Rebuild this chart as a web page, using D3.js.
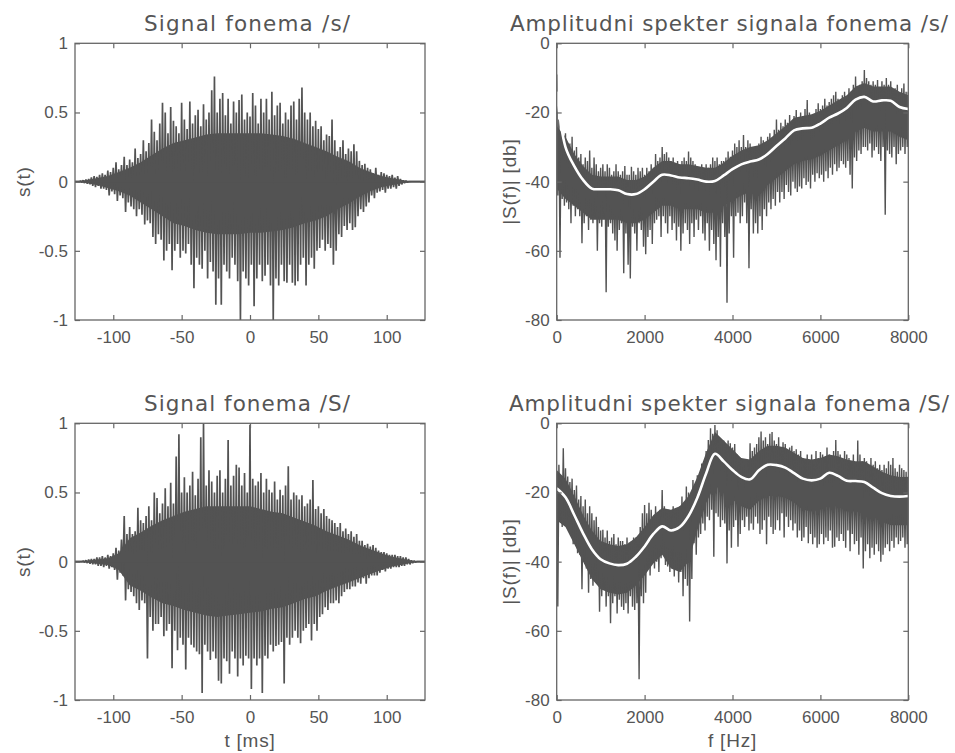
<!DOCTYPE html>
<html><head><meta charset="utf-8">
<script src="https://cdn.jsdelivr.net/npm/d3@7/dist/d3.min.js"></script>
<style>body{margin:0;background:#fff}svg{display:block}</style>
</head><body>
<svg id="c" width="955" height="753"></svg>
<script>
// ---------- texts & ticks ----------
const titles = ["Signal fonema /s/", "Amplitudni spekter signala fonema /s/", "Signal fonema /S/", "Amplitudni spekter signala fonema /S/"];
const timeTicks = [-100, -50, 0, 50, 100];
const ampTicks = [-1, -0.5, 0, 0.5, 1];
const freqTicks = [0, 2000, 4000, 6000, 8000];
const dbTicks = [-80, -60, -40, -20, 0];
const timeDomain = [-128, 128];
const freqDomain = [0, 8000];

// ---------- time signals: max/min per 2 ms bin, t = -128 .. 128 ----------
const timeBins = d3.range(-128, 129, 2);
const sUpper = [
 0,0,0.005,0.01,0.015,0.02,0.03,0.04,0.035,0.05,
 0.06,0.05,0.08,0.07,0.1,0.14,0.09,0.12,0.18,0.12,
 0.16,0.14,0.24,0.17,0.2,0.3,0.22,0.28,0.45,0.36,
 0.3,0.42,0.57,0.5,0.35,0.54,0.44,0.4,0.35,0.57,
 0.45,0.38,0.58,0.42,0.48,0.52,0.4,0.56,0.45,0.5,
 0.66,0.76,0.5,0.6,0.64,0.48,0.6,0.42,0.58,0.5,
 0.59,0.63,0.45,0.5,0.47,0.64,0.55,0.42,0.6,0.5,
 0.6,0.45,0.65,0.48,0.55,0.57,0.42,0.5,0.45,0.55,
 0.58,0.45,0.6,0.68,0.5,0.45,0.5,0.4,0.44,0.38,
 0.4,0.3,0.34,0.33,0.45,0.3,0.22,0.25,0.3,0.2,
 0.24,0.22,0.27,0.22,0.15,0.12,0.13,0.1,0.09,0.06,
 0.1,0.05,0.07,0.06,0.05,0.04,0.05,0.03,0.04,0.02,
 0.01,0.005,0,0,0,0,0,0,0];
const sLower = [
 0,0,-0.005,-0.01,-0.015,-0.02,-0.03,-0.04,-0.03,-0.05,
 -0.05,-0.06,-0.1,-0.07,-0.09,-0.14,-0.1,-0.12,-0.22,-0.15,
 -0.18,-0.2,-0.25,-0.2,-0.24,-0.31,-0.28,-0.3,-0.4,-0.45,
 -0.38,-0.42,-0.57,-0.5,-0.45,-0.64,-0.5,-0.45,-0.55,-0.5,
 -0.52,-0.45,-0.6,-0.77,-0.55,-0.6,-0.63,-0.5,-0.7,-0.58,
 -0.65,-0.89,-0.7,-0.89,-0.6,-0.65,-0.7,-0.55,-0.6,-0.72,
 -1.0,-0.65,-0.7,-0.75,-0.6,-0.9,-0.7,-0.6,-0.72,-0.68,
 -0.6,-0.75,-1.0,-0.7,-0.75,-0.6,-0.72,-0.73,-0.6,-0.73,
 -0.75,-0.72,-0.6,-0.55,-0.75,-0.6,-0.55,-0.63,-0.5,-0.48,
 -0.42,-0.5,-0.45,-0.48,-0.6,-0.5,-0.38,-0.4,-0.32,-0.35,
 -0.3,-0.35,-0.33,-0.25,-0.2,-0.22,-0.18,-0.15,-0.1,-0.12,
 -0.08,-0.07,-0.06,-0.08,-0.05,-0.05,-0.04,-0.05,-0.03,-0.02,
 -0.01,-0.005,0,0,0,0,0,0,0];
const shUpper = [
 0,0,0,0.005,0.01,0.015,0.02,0.02,0.03,0.03,
 0.04,0.03,0.05,0.04,0.06,0.1,0.08,0.16,0.33,0.2,
 0.25,0.2,0.22,0.39,0.3,0.28,0.33,0.4,0.3,0.5,
 0.46,0.35,0.42,0.53,0.4,0.57,0.42,0.76,0.92,0.5,
 0.61,0.5,0.55,0.65,0.48,0.6,0.9,1.0,0.55,0.66,
 0.58,0.5,0.62,0.66,0.5,0.6,0.88,0.55,0.62,0.7,
 0.68,0.55,0.64,0.5,0.99,0.6,0.55,0.58,0.64,0.5,
 0.6,0.52,0.5,0.58,0.45,0.52,0.48,0.55,0.69,0.45,
 0.5,0.48,0.45,0.48,0.4,0.42,0.45,0.59,0.38,0.4,
 0.35,0.38,0.33,0.31,0.3,0.28,0.25,0.28,0.22,0.24,
 0.2,0.22,0.18,0.2,0.15,0.15,0.12,0.13,0.11,0.12,
 0.1,0.08,0.07,0.07,0.06,0.05,0.05,0.05,0.04,0.04,
 0.03,0.03,0.02,0.01,0.005,0,0,0,0];
const shLower = [
 0,0,0,-0.005,-0.01,-0.015,-0.02,-0.02,-0.03,-0.03,
 -0.04,-0.03,-0.05,-0.04,-0.06,-0.13,-0.08,-0.1,-0.28,-0.2,
 -0.22,-0.25,-0.3,-0.35,-0.28,-0.3,-0.7,-0.4,-0.5,-0.45,
 -0.45,-0.4,-0.54,-0.5,-0.45,-0.77,-0.5,-0.64,-0.55,-0.6,
 -0.78,-0.55,-0.6,-0.62,-0.65,-0.67,-0.95,-0.6,-0.65,-0.71,
 -0.65,-0.7,-0.86,-0.88,-0.7,-0.72,-0.81,-0.65,-0.7,-0.83,
 -0.7,-0.75,-0.68,-0.7,-0.92,-0.7,-0.75,-0.7,-0.95,-0.68,
 -0.7,-0.6,-0.65,-0.61,-0.6,-0.58,-0.88,-0.55,-0.6,-0.55,
 -0.5,-0.55,-0.59,-0.5,-0.48,-0.45,-0.57,-0.45,-0.5,-0.4,
 -0.38,-0.33,-0.35,-0.3,-0.3,-0.28,-0.3,-0.25,-0.22,-0.2,
 -0.2,-0.18,-0.18,-0.15,-0.16,-0.12,-0.16,-0.12,-0.1,-0.1,
 -0.1,-0.08,-0.06,-0.07,-0.05,-0.05,-0.04,-0.04,-0.04,-0.03,
 -0.03,-0.02,-0.02,-0.01,-0.005,0,0,0,0];

// solid (dense) band of the time signals, every 8 ms
const coreTime = d3.range(-128, 129, 8);
const sCoreUp = [0,0.01,0.025,0.04,0.07,0.1,0.14,0.19,0.24,0.28,0.3,0.32,0.34,0.35,0.35,0.35,0.35,
 0.35,0.34,0.33,0.31,0.28,0.25,0.22,0.18,0.15,0.1,0.07,0.04,0.025,0.01,0,0];
const sCoreLo = [0,-0.01,-0.025,-0.045,-0.07,-0.1,-0.15,-0.2,-0.25,-0.3,-0.32,-0.35,-0.37,-0.38,-0.38,-0.38,-0.37,
 -0.37,-0.36,-0.35,-0.33,-0.3,-0.28,-0.25,-0.2,-0.16,-0.11,-0.07,-0.04,-0.025,-0.01,0,0];
const shCoreUp = [0,0.005,0.015,0.025,0.06,0.17,0.21,0.26,0.3,0.33,0.36,0.38,0.4,0.4,0.4,0.4,0.4,
 0.38,0.36,0.35,0.32,0.29,0.26,0.22,0.19,0.16,0.12,0.09,0.06,0.035,0.02,0.005,0];
const shCoreLo = [0,-0.005,-0.015,-0.025,-0.06,-0.17,-0.21,-0.26,-0.3,-0.32,-0.35,-0.37,-0.39,-0.4,-0.39,-0.38,-0.37,
 -0.36,-0.34,-0.33,-0.3,-0.27,-0.25,-0.21,-0.18,-0.15,-0.12,-0.09,-0.06,-0.035,-0.02,-0.005,0];

// ---------- spectra: max/min per 50 Hz bin, f = 0 .. 8000 ----------
const freqBins = d3.range(0, 8001, 50);
const sSpecHi = [
 -9,-22,-26,-28,-26,-30,-29,-27,-31,-30,
 -33,-32,-35,-33,-34,-31,-36,-33,-35,-37,
 -36,-35,-37,-35,-36,-38,-37,-35,-37,-38,
 -37,-35.5,-38,-38,-35.7,-37,-38,-36,-37,-36,
 -38,-36,-37,-35,-36,-32,-34,-33,-30,-32,
 -31.5,-33,-34,-33,-35,-34,-35,-34,-33,-34,
 -31.3,-33,-34,-35,-36,-37,-35,-36,-35,-36,
 -35,-33,-34,-33,-35,-34,-34,-33,-31.3,-32.8,
 -31,-29,-30,-28,-30,-26.5,-30,-28,-29,-30,
 -30,-31,-29,-27,-28,-29,-27,-26,-28,-25,
 -22,-25,-23,-24,-22,-23,-20.7,-23,-21,-19.3,
 -22,-20,-21,-19,-16.4,-20,-21,-22,-19,-17.3,
 -19,-18,-16,-18,-17,-16,-15,-14,-16,-17,
 -15,-14,-16,-13,-14,-12,-9.6,-13,-12,-11,
 -7.7,-10,-11,-12,-11,-12,-10.6,-13,-11,-12,
 -10,-12,-11,-14,-13,-12,-15,-13,-11.6,-14,
 -14];
const sSpecLo = [
 -44,-62,-45,-47,-46,-48,-52,-47,-50,-48,
 -50,-57.8,-52,-50,-54,-51,-52,-50,-60,-52,
 -53,-50,-72,-53,-52,-55,-57,-60,-54,-52,
 -66.5,-55,-64,-68,-53,-55,-60,-52,-54,-58.8,
 -61,-56,-54,-58,-52,-51,-50,-56,-50,-52,
 -55,-50,-54,-52,-57,-53,-60,-55,-52,-54,
 -58,-52,-56,-51,-54,-50,-55,-57,-52,-60,
 -54,-58,-62.7,-56,-64.6,-52,-56,-75,-55,-50,
 -62,-50,-49,-52,-50,-46,-52,-65,-48,-55,
 -52,-55,-50,-54,-48,-50,-46,-48,-45,-47,
 -43,-46,-43,-45,-41,-43,-44,-40,-42,-43,
 -41.4,-42,-39,-41,-40,-42,-38,-40,-37.6,-39,
 -38,-40,-37,-39,-36,-38,-35,-37,-36,-34,
 -35,-36,-34,-38,-42,-33,-34,-31,-32,-30,
 -30,-31,-29,-33,-31,-30,-32,-34,-30,-49.6,
 -31,-32,-33,-30,-35,-32,-31,-30,-32,-30,
 -31];
const shSpecHi = [
 -14.5,-12,-16,-7.2,-13,-15.4,-17,-16,-19.3,-18,
 -22,-21,-24,-22,-26,-24,-26,-28,-27,-30,
 -31,-30.8,-33,-31,-34,-33,-32,-35,-33,-34,
 -34,-35,-33,-34.5,-34,-33,-33,-35,-30,-26,
 -23.6,-26,-23,-25,-27,-24,-26,-25,-19.3,-24,
 -26,-25,-27,-24,-26,-25,-24,-21.2,-24,-18.3,
 -20,-22,-16.4,-19,-15,-17,-11.6,-14,-8,-4.8,
 -1.4,-3,-0.5,-2,-4,-6,-5,-6.7,-5,-5.8,
 -7,-6,-9,-11,-10,-12,-13.5,-11,-5.8,-8,
 -7,-6,-4,-2.4,-5,-4,-6,-3,-2.5,-5,
 -6,-4,-7,-5.5,-6,-8,-7,-6.5,-8,-7.5,
 -9,-8,-10,-10.6,-9,-11,-9,-12,-8,-10,
 -8.3,-9,-10,-7,-9,-10,-8,-4.8,-8,-9,
 -10,-8,-9,-10,-11,-9,-12,-5,-9,-11,
 -10,-11,-12.5,-10,-12,-11,-13,-12,-13.5,-12,
 -13,-11,-12,-10,-13,-14,-12,-13,-13.5,-14,
 -15.4];
const shSpecLo = [
 -53,-28,-30,-29,-28,-27,-29,-35,-30,-37.6,
 -38,-48,-40,-42,-49,-45,-47,-44,-46,-54.5,
 -50,-48,-53,-50,-57.8,-52,-50,-55,-51,-53,
 -54,-52,-55,-50,-53,-54,-52,-74,-50,-52,
 -49,-42,-44,-39.5,-42,-40,-43,-39,-38,-41,
 -41.4,-43,-40,-44.3,-42,-46,-43,-50,-45,-47,
 -57.3,-45,-34.7,-38,-33,-32,-29,-31,-27,-28,
 -25,-38.6,-26,-27,-30,-28,-29,-40.5,-31,-36,
 -30,-28,-35.7,-32,-28,-30,-27,-31,-29,-30.8,
 -27,-29,-32,-30.8,-28,-35,-27,-30,-32,-30.8,
 -28,-31,-26,-33,-27,-30,-28,-31,-29,-33,
 -31,-34,-33,-30,-34.7,-32,-35,-33,-36,-35,
 -32,-35,-33,-34,-31,-36,-35.7,-33,-34,-32,
 -34,-36,-31,-37,-32,-35,-34,-38,-33,-42,
 -37,-35,-39,-36,-38,-35,-37,-40,-38,-36,
 -35,-37,-34,-36,-33,-35,-34,-33,-36,-35,
 -33];

// ---------- smoothed spectra (white curves) and solid band, every 200 Hz ----------
const smoothFreq = d3.range(0, 8001, 200);
const sSmooth = [-14,-30,-35.5,-39.5,-42,-42.2,-42.2,-42.5,-43.6,-43.6,
 -42.2,-40,-38,-38.2,-38.8,-39,-39.4,-40,-39.8,-38.2,
 -36.4,-35,-34.2,-33.6,-32,-29.7,-27.5,-25.2,-24.6,-24.4,
 -23.2,-21.5,-20.3,-18.7,-16.3,-15.5,-16.8,-16.5,-16.6,-18.4,-19];
const shSmooth = [-18.8,-21.4,-26.5,-31.8,-36.4,-39.3,-40.5,-41,-40.6,-38.6,
 -35.6,-32,-29.8,-31,-30,-26.8,-21.5,-14.5,-8.8,-11,
 -13.5,-15.5,-16.2,-13.6,-12,-12.1,-12.8,-14.4,-16,-16.5,
 -16,-14.3,-15.2,-16.6,-16.7,-17,-18.6,-20.2,-21,-21.2,-21];
const sCoreTop = [-24,-27,-32,-35.5,-38,-38.5,-38.5,-38.5,-39.5,-39.5,
 -38.5,-36,-34,-34,-35,-35,-35.5,-36,-36,-34.5,
 -32.5,-31,-30,-29.5,-28,-26,-24,-21.5,-21,-20.5,
 -19.5,-18,-16.5,-15,-12.5,-11.5,-12.5,-12.5,-12.5,-14,-15];
const sCoreBot = [-42,-45,-47,-49,-51,-51,-51,-51,-52,-52,
 -51,-49,-47,-47,-48,-48,-48,-49,-49,-47,
 -45.5,-44,-43,-42.5,-41,-39,-37,-35,-34,-33.5,
 -32.5,-31,-29.5,-28,-25.5,-24.5,-25.5,-25.5,-25.5,-27,-28];
const shCoreTop = [-13.5,-16,-21,-26.5,-31,-34,-35,-35.5,-35,-33,
 -30,-26.5,-24.5,-25,-24,-21,-15.5,-8.5,-2.5,-5,
 -7.5,-10,-10.5,-8,-6.5,-6.5,-7,-8.5,-10,-10.5,
 -10,-9,-9.5,-10.5,-11,-11,-12.5,-14,-15,-15.5,-15.5];
const shCoreBot = [-28,-30,-35,-40,-45,-48,-49,-49.5,-49,-47,
 -44,-40.5,-38,-42,-43,-40,-31,-23,-18,-20,
 -22,-24,-25,-22.5,-21,-21,-21.5,-23,-25,-25.5,
 -25,-23,-24,-25.5,-25.5,-26,-27,-28.5,-29.5,-29.5,-29.5];

// ---------- drawing ----------
const LINE = "#535353", TXT = "#555555", BOX = "#666666";
const svg = d3.select("#c");
const fmt = d => String(d);

const panels = [
 {x0:75, x1:425, y0:43.3, y1:320, kind:"time", hi:sUpper, lo:sLower, cu:sCoreUp, cl:sCoreLo, title:titles[0], tlen:206, ylab:"s(t)", xlab:null},
 {x0:556.7, x1:908.3, y0:43.3, y1:320, kind:"freq", hi:sSpecHi, lo:sSpecLo, cu:sCoreTop, cl:sCoreBot, sm:sSmooth, title:titles[1], tlen:438, ylab:"|S(f)| [db]", xlab:null},
 {x0:75, x1:425, y0:423.3, y1:700, kind:"time", hi:shUpper, lo:shLower, cu:shCoreUp, cl:shCoreLo, title:titles[2], tlen:206, ylab:"s(t)", xlab:"t [ms]"},
 {x0:556.7, x1:908.3, y0:423.3, y1:700, kind:"freq", hi:shSpecHi, lo:shSpecLo, cu:shCoreTop, cl:shCoreBot, sm:shSmooth, title:titles[3], tlen:440, ylab:"|S(f)| [db]", xlab:"f [Hz]"}
];

panels.forEach((p, k) => {
  const isT = p.kind === "time";
  const x = d3.scaleLinear().domain(isT ? timeDomain : freqDomain).range([p.x0, p.x1]);
  const y = d3.scaleLinear().domain(isT ? [-1, 1] : [-80, 0]).range([p.y1, p.y0]);
  const bins = isT ? timeBins : freqBins;
  const cbins = isT ? coreTime : smoothFreq;
  const half = isT ? 1 : 25;
  const xt = isT ? timeTicks : freqTicks, yt = isT ? ampTicks : dbTicks;

  const cid = "clip" + k;
  svg.append("clipPath").attr("id", cid).append("rect")
    .attr("x", p.x0).attr("y", p.y0).attr("width", p.x1 - p.x0).attr("height", p.y1 - p.y0);
  const g = svg.append("g").attr("clip-path", `url(#${cid})`);

  // solid band of the trace
  const area = d3.area().x((d, i) => x(cbins[i])).y0((d, i) => y(p.cl[i])).y1(d => y(d));
  g.append("path").attr("d", area(p.cu)).attr("fill", LINE);

  // the trace itself, alternating bin maxima and minima
  const pts = [];
  bins.forEach((b, i) => {
    if (i < p.hi.length) pts.push([b, p.hi[i]]);
    if (i < p.lo.length) pts.push([b + half, p.lo[i]]);
  });
  const line = d3.line().x(d => x(d[0])).y(d => y(d[1]));
  g.append("path").attr("d", line(pts)).attr("fill", "none")
    .attr("stroke", LINE).attr("stroke-width", isT ? 1.7 : 1.4).attr("stroke-linejoin", "bevel");
  if (isT) {
    g.append("line").attr("x1", p.x0).attr("x2", p.x1).attr("y1", y(0)).attr("y2", y(0))
      .attr("stroke", LINE).attr("stroke-width", 1.8);
  } else {
    const sm = d3.line().curve(d3.curveCatmullRom.alpha(0.5))
      .x((d, i) => x(smoothFreq[i])).y(d => y(d));
    g.append("path").attr("d", sm(p.sm)).attr("fill", "none")
      .attr("stroke", "#ffffff").attr("stroke-width", 2.6);
  }

  // axes (inward ticks on all four sides)
  const styleAx = sel => {
    sel.select(".domain").remove();
    sel.selectAll(".tick line").attr("stroke", BOX).attr("stroke-width", 1.2);
    sel.selectAll("text").attr("fill", TXT).attr("font-family", "Liberation Sans, Arial, sans-serif").attr("font-size", 17);
  };
  svg.append("g").attr("transform", `translate(0,${p.y1})`)
    .call(d3.axisBottom(x).tickValues(xt).tickSizeInner(-5).tickSizeOuter(0).tickPadding(11).tickFormat(fmt)).call(styleAx);
  svg.append("g").attr("transform", `translate(0,${p.y0})`)
    .call(d3.axisTop(x).tickValues(xt).tickSizeInner(-5).tickSizeOuter(0).tickFormat("")).call(styleAx);
  svg.append("g").attr("transform", `translate(${p.x0},0)`)
    .call(d3.axisLeft(y).tickValues(yt).tickSizeInner(-5).tickSizeOuter(0).tickPadding(7).tickFormat(fmt)).call(styleAx);
  svg.append("g").attr("transform", `translate(${p.x1},0)`)
    .call(d3.axisRight(y).tickValues(yt).tickSizeInner(-5).tickSizeOuter(0).tickFormat("")).call(styleAx);

  svg.append("rect").attr("x", p.x0).attr("y", p.y0).attr("width", p.x1 - p.x0).attr("height", p.y1 - p.y0)
    .attr("fill", "none").attr("stroke", BOX).attr("stroke-width", 1.3);

  const cx = (p.x0 + p.x1) / 2, cy = (p.y0 + p.y1) / 2;
  svg.append("text").attr("x", isT ? cx - 3 : cx - 3.5).attr("y", p.y0 - 12.5).attr("text-anchor", "middle")
    .attr("font-family", "DejaVu Sans, Verdana, sans-serif").attr("font-size", 21.5).attr("fill", TXT)
    .attr("textLength", p.tlen).attr("lengthAdjust", "spacing")
    .text(p.title);
  svg.append("text").attr("transform", `translate(${isT ? 30 : 516},${cy}) rotate(-90)`)
    .attr("text-anchor", "middle").attr("font-family", "Liberation Sans, Arial, sans-serif")
    .attr("font-size", 19).attr("letter-spacing", 0.8).attr("fill", TXT).text(p.ylab);
  if (p.xlab) {
    svg.append("text").attr("x", cx).attr("y", 747).attr("text-anchor", "middle")
      .attr("font-family", "Liberation Sans, Arial, sans-serif").attr("font-size", 19)
      .attr("letter-spacing", 0.8).attr("fill", TXT).text(p.xlab);
  }
});
</script>
</body></html>
